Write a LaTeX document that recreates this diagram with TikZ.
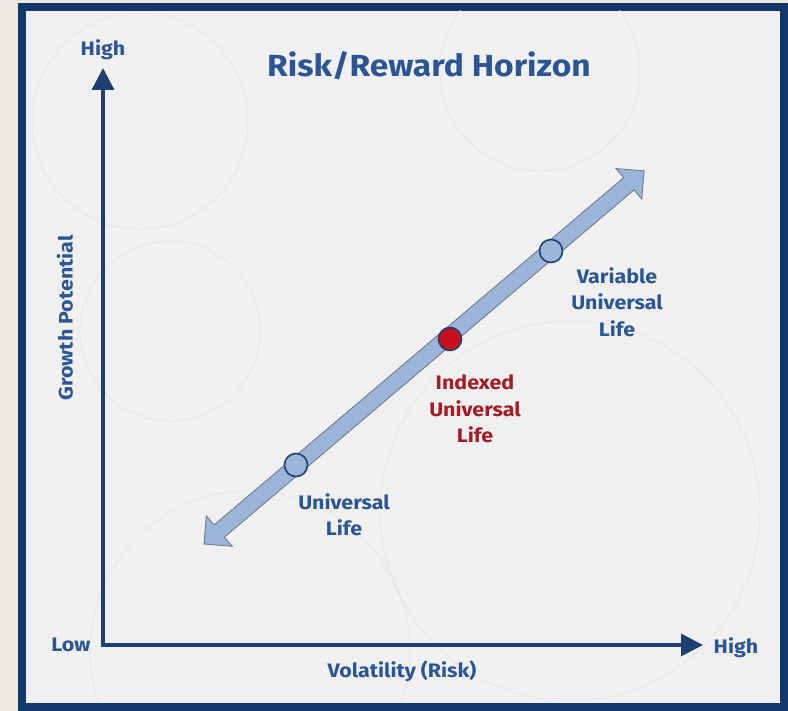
\documentclass[tikz,border=0pt]{standalone}
\usepackage{fontspec}
\setmainfont{Fira Sans}[FakeStretch=1.1]
\usetikzlibrary{arrows.meta}
\definecolor{outbg}{HTML}{ECE9E3}
\definecolor{framec}{HTML}{13386B}
\definecolor{panelc}{HTML}{F0F0F0}
\definecolor{axisc}{HTML}{1E3F72}
\definecolor{txtc}{HTML}{2C5693}
\definecolor{arrfill}{HTML}{9BB5D9}
\definecolor{arrline}{HTML}{717C8C}
\definecolor{redtxt}{HTML}{A51C24}
\definecolor{redfill}{HTML}{C8101C}
\definecolor{ghost}{HTML}{E5E5E5}
\tikzset{
  lbl/.style={text=txtc, font=\bfseries\fontsize{19.5}{26.5}\selectfont, align=center, inner sep=0pt},
  redlbl/.style={lbl, text=redtxt},
  axlbl/.style={text=txtc, font=\bfseries\fontsize{19.5}{22}\selectfont, inner sep=0pt},
  dot/.style={circle, draw=axisc, line width=1.6pt, minimum size=23pt, inner sep=0pt},
  axisline/.style={draw=axisc, line width=3.4pt},
  ghostc/.style={draw=ghost, line width=0.7pt}
}
\begin{document}
\begin{tikzpicture}[x=1pt,y=1pt]
\useasboundingbox (0,0) rectangle (788,711);
\fill[outbg] (0,0) rectangle (788,711);
\fill[framec] (18,0) rectangle (788,708);
\fill[panelc] (26,8) rectangle (780,700);
% faint background circles
\begin{scope}
\clip (26,8) rectangle (780,700);
\draw[ghostc] (140,590) circle (108);
\draw[ghostc] (540,640) circle (100);
\draw[ghostc] (170,380) circle (90);
\draw[ghostc] (570,200) circle (190);
\draw[ghostc] (250,60) circle (160);
\end{scope}
% axes
\coordinate (org) at (103,66);
\coordinate (ytip) at (103,643);
\coordinate (xtip) at (703,66);
\draw[axisline, line join=miter, {Triangle[length=22pt,width=22pt]}-{Triangle[length=22pt,width=22pt]}] (ytip) -- (org) -- (xtip);
% diagonal double arrow
\begin{scope}[shift={(204,167)}, rotate=40.29]
\filldraw[fill=arrfill, draw=arrline, line width=0.9pt, line join=miter]
  (0,0) -- (20,20) -- (20,8) -- (557,8) -- (557,20) -- (577,0) -- (557,-20) -- (557,-8) -- (20,-8) -- (20,-20) -- cycle;
\end{scope}
% dots
\node[dot, fill=arrfill] (ul) at (296,246) {};
\node[dot, fill=redfill] (iul) at (450,372) {};
\node[dot, fill=arrfill] (vul) at (551,460) {};
% labels
\node[lbl] (ultxt) at (344,196) {Universal\\Life};
\node[redlbl] (iultxt) at (475,302) {Indexed\\Universal\\Life};
\node[lbl] (vultxt) at (617,409) {Variable\\Universal\\Life};
\node[text=txtc, font=\bfseries\fontsize{30.5}{36}\selectfont, inner sep=0pt] (title) at (429,645) {Risk/Reward Horizon};
\node[axlbl] (yhigh) at (103,661) {High};
\node[axlbl] (xlow) at (71,66) {Low};
\node[axlbl] (xhigh) at (736,63) {High};
\node[axlbl] (xlab) at (402,40) {Volatility (Risk)};
\node[axlbl, rotate=90] (ylab) at (65,393) {Growth Potential};
\end{tikzpicture}
\end{document}
